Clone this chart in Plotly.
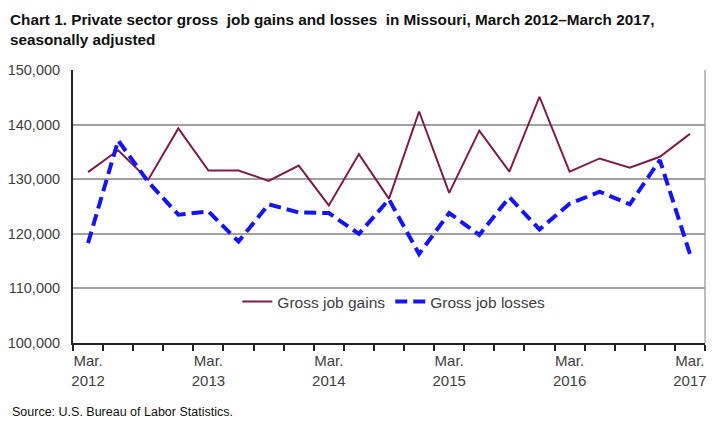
import plotly.graph_objects as go

quarters = [
    "Mar. 2012", "Jun. 2012", "Sep. 2012", "Dec. 2012",
    "Mar. 2013", "Jun. 2013", "Sep. 2013", "Dec. 2013",
    "Mar. 2014", "Jun. 2014", "Sep. 2014", "Dec. 2014",
    "Mar. 2015", "Jun. 2015", "Sep. 2015", "Dec. 2015",
    "Mar. 2016", "Jun. 2016", "Sep. 2016", "Dec. 2016",
    "Mar. 2017",
]
gross_job_gains = [
    131300, 135300, 129900, 139300, 131600, 131600, 129700, 132500,
    125200, 134600, 126400, 142400, 127500, 138900, 131400, 145100,
    131400, 133800, 132100, 134100, 138300,
]
gross_job_losses = [
    118300, 137100, 129500, 123500, 124100, 118600, 125400, 123900,
    123800, 120000, 126300, 116300, 123800, 119800, 126700, 120800,
    125500, 127700, 125400, 133500, 116300,
]
y_ticks = [100000, 110000, 120000, 130000, 140000, 150000]

idx = list(range(len(quarters)))
label_idx = [i for i, q in enumerate(quarters) if q.startswith("Mar.")]
label_text = [quarters[i].replace(" ", "<br>") for i in label_idx]
boundaries = [i - 0.5 for i in idx] + [idx[-1] + 0.5]

font_main = "Liberation Sans, Arial, sans-serif"

fig = go.Figure()
fig.add_trace(go.Scatter(
    x=idx, y=gross_job_gains, mode="lines", name="Gross job gains",
    line=dict(color="#7a1e48", width=2),
))
fig.add_trace(go.Scatter(
    x=idx, y=gross_job_losses, mode="lines", name="Gross job losses",
    line=dict(color="#1414f5", width=4, dash="12px,6px"),
))

fig.update_layout(
    width=706, height=414,
    margin=dict(l=65, r=9, t=62, b=79),
    paper_bgcolor="white", plot_bgcolor="white",
    showlegend=True,
    legend=dict(
        orientation="h", x=0.26, xanchor="left", y=0.15, yanchor="middle",
        bgcolor="rgba(0,0,0,0)", font=dict(family=font_main, size=15.5, color="#404040"),
        itemwidth=30, tracegroupgap=0,
    ),
    xaxis=dict(
        range=[-0.5, len(quarters) - 0.5],
        tickmode="array", tickvals=label_idx, ticktext=label_text,
        ticks="", showgrid=False, zeroline=False, automargin=False,
        showline=True, linecolor="#222222", linewidth=2,
        ticklabelstandoff=3,
        tickfont=dict(family=font_main, size=15, color="#404040"),
        minor=dict(tickmode="array", tickvals=boundaries, ticks="outside",
                   ticklen=6, tickwidth=2, tickcolor="#222222", showgrid=False),
    ),
    yaxis=dict(
        range=[y_ticks[0], y_ticks[-1]],
        tickmode="array", tickvals=y_ticks, tickformat=",",
        showgrid=True, gridcolor="#a0a0a0", gridwidth=1.5,
        zeroline=False, showline=True, linecolor="#222222", linewidth=2,
        ticks="", ticklabelstandoff=8, automargin=False,
        tickfont=dict(family=font_main, size=14.5, color="#404040"),
    ),
    shapes=[dict(type="line", xref="paper", yref="paper", x0=1, x1=1, y0=0, y1=1,
                 line=dict(color="#a8a8a8", width=1.5))],
    annotations=[
        dict(
            text="<b>Chart 1. Private sector gross  job gains and losses  in Missouri, March 2012\u2013March 2017,<br>seasonally adjusted</b>",
            xref="paper", yref="paper", x=-0.1028, y=1.222, xanchor="left", yanchor="top",
            align="left", showarrow=False,
            font=dict(family=font_main, size=15.3, color="#111111"),
        ),
        dict(
            text="Source: U.S. Bureau of Labor Statistics.",
            xref="paper", yref="paper", x=-0.0997, y=-0.254, xanchor="left", yanchor="middle",
            showarrow=False, font=dict(family=font_main, size=12.5, color="#111111"),
        ),
    ],
)

fig.write_html("out.html")
